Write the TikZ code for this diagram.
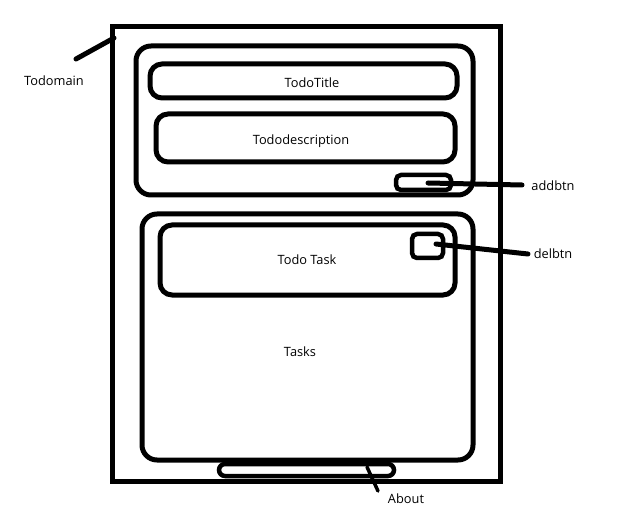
\documentclass[tikz,border=0pt]{standalone}
\usepackage{fontspec}
\setmainfont{Open Sans}
\begin{document}
\begin{tikzpicture}[x=1pt,y=-1pt,
  frame/.style={draw=black,line width=5pt},
  panel/.style={draw=black,line width=5pt,rounded corners=15pt},
  field/.style={draw=black,line width=5pt,rounded corners=12pt},
  btn/.style={draw=black,line width=4.5pt,rounded corners=5pt},
  lead/.style={draw=black,line width=5pt,line cap=round},
  lbl/.style={font=\fontsize{12.8}{15}\selectfont,inner sep=0pt}]
\useasboundingbox[fill=white] (0,0) rectangle (620,510);
% main frame
\draw[frame] (112,27) rectangle (500,481);
\coordinate (mainc) at (114,38);
% top panel
\draw[panel] (136,46) rectangle (473,195);
\draw[field] (150,64) rectangle (457,98);
\node[lbl] (tt) at (312,83) {TodoTitle};
\draw[field] (156,114) rectangle (455,162);
\node[lbl] (td) at (301,141) {Tododescription};
\draw[btn] (396,175) rectangle (451,190);
\coordinate (addc) at (428,183);
% bottom panel
\draw[panel] (142,214) rectangle (473,460);
\draw[field] (160,225) rectangle (455,295);
\node[lbl] (task) at (307,260) {Todo Task};
\draw[btn] (412,234) rectangle (443,258);
\coordinate (delc) at (436,244);
\node[lbl] (tasks) at (300,352) {Tasks};
% about bar
\draw[btn,rounded corners=6pt] (219,464) rectangle (394,476);
\coordinate (aboutc) at (367,467);
% labels
\node[lbl] (todomain) at (54,81) {Todomain};
\node[lbl] (addbtn) at (553,186) {addbtn};
\node[lbl] (delbtn) at (553,254) {delbtn};
\node[lbl] (about) at (406,499) {About};
% leaders
\coordinate (tm) at (76,59);
\coordinate (ab) at (522,185);
\coordinate (db) at (528,254);
\coordinate (abt) at (378,491);
\draw[lead] (tm) -- (mainc);
\draw[lead] (addc) -- (ab);
\draw[lead] (delc) -- (db);
\draw[lead,line width=3.5pt] (aboutc) -- (abt);
\end{tikzpicture}
\end{document}
